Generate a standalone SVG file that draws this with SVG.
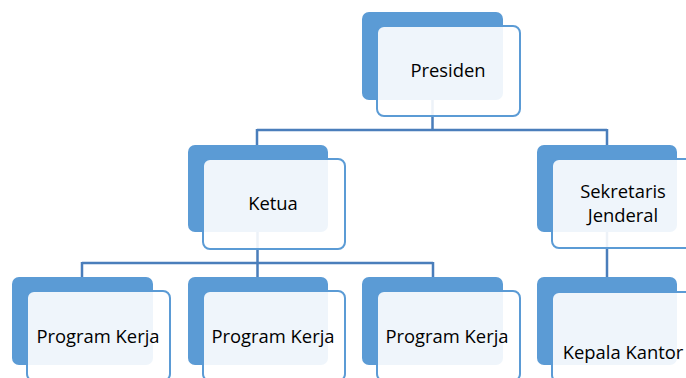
<svg xmlns="http://www.w3.org/2000/svg" width="686" height="378" viewBox="0 0 686 378">
<style>
.back{fill:#5B9BD5}
.front{fill:#FFFFFF;fill-opacity:0.9;stroke:#5B9BD5;stroke-width:2}
.conn{fill:none;stroke:#4A7EBB;stroke-width:2.5}
text{font-family:"Open Sans","Liberation Sans",sans-serif;font-size:18.4px;fill:#000;text-anchor:middle}
</style>
<rect width="686" height="378" fill="#FFFFFF"/>
<g id="connectors">
<path class="conn" d="M432.5,100 V130 M257,130 H607 M257,129 V145 M607,129 V145"/>
<path class="conn" d="M257.5,232 V263 M82,263 H433 M82,262 V277 M257.5,262 V277 M433,262 V277"/>
<path class="conn" d="M607,232 V277"/>
</g>
<g id="presiden">
<rect class="back" x="362" y="12" width="141" height="88" rx="7"/>
<rect class="front" x="377" y="26" width="143" height="90" rx="7"/>
<text x="448" y="77">Presiden</text>
</g>
<g id="ketua">
<rect class="back" x="188" y="145" width="140" height="87" rx="7"/>
<rect class="front" x="203" y="159" width="142" height="90" rx="7"/>
<text x="273" y="210">Ketua</text>
</g>
<g id="sekjen">
<rect class="back" x="537" y="145" width="140" height="87" rx="7"/>
<rect class="front" x="552" y="159" width="143" height="89" rx="7"/>
<text x="623" y="198">Sekretaris</text>
<text x="623" y="222">Jenderal</text>
</g>
<g id="program1">
<rect class="back" x="12" y="277" width="141" height="88" rx="7"/>
<rect class="front" x="27" y="291" width="143" height="90" rx="7"/>
<text x="98" y="343">Program Kerja</text>
</g>
<g id="program2">
<rect class="back" x="188" y="277" width="140" height="88" rx="7"/>
<rect class="front" x="203" y="291" width="142" height="90" rx="7"/>
<text x="273" y="343">Program Kerja</text>
</g>
<g id="program3">
<rect class="back" x="362" y="277" width="141" height="88" rx="7"/>
<rect class="front" x="377" y="291" width="143" height="90" rx="7"/>
<text x="447" y="343">Program Kerja</text>
</g>
<g id="kepala">
<rect class="back" x="537" y="277" width="140" height="88" rx="7"/>
<rect class="front" x="552" y="292" width="143" height="90" rx="7"/>
<text x="623" y="359">Kepala Kantor</text>
</g>
</svg>
